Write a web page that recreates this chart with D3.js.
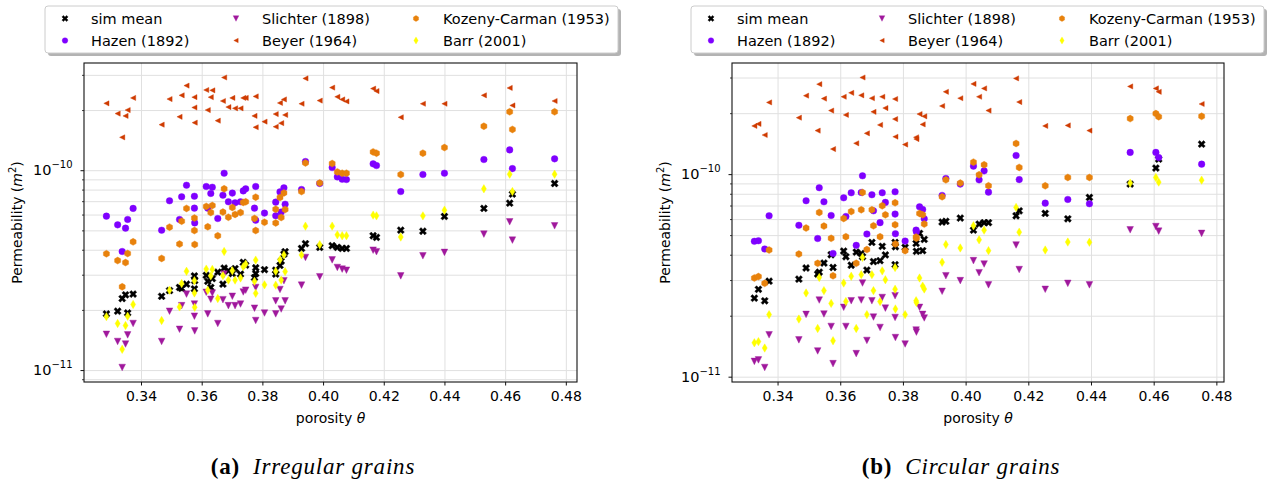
<!DOCTYPE html>
<html><head><meta charset="utf-8">
<script src="https://cdn.jsdelivr.net/npm/d3@7"></script>
<style>body{margin:0;background:#fff}svg{display:block}</style>
</head><body>
<svg id="chart" width="1269" height="486"></svg>
<script>
// ---------------- DATA ----------------
const seriesNames = ["sim mean","Hazen (1892)","Slichter (1898)","Beyer (1964)","Kozeny-Carman (1953)","Barr (2001)"];
const xTicks = [0.34,0.36,0.38,0.40,0.42,0.44,0.46,0.48];
const yTickExponents = [-11,-10];
const panelTags = ["(a)","(b)"];
const captions = ["Irregular grains","Circular grains"];
const xLabel = "porosity ";
const yLabel = "Permeability (";

// (a) Irregular grains
const porosityA = [0.3286,0.3323,0.3338,0.3349,0.3356,0.3374,0.3468,0.3494,0.3527,0.3534,0.3550,0.3576,0.3576,0.3577,0.3615,0.3620,0.3630,0.3635,0.3653,0.3670,0.3674,0.3688,0.3701,0.3710,0.3728,0.3737,0.3745,0.3774,0.3778,0.3778,0.3807,0.3844,0.3844,0.3858,0.3862,0.3871,0.3875,0.3929,0.3942,0.3989,0.4030,0.4047,0.4063,0.4077,0.4165,0.4176,0.4256,0.4329,0.4400,0.4530,0.4615,0.4624,0.4763];
const simA = [1.91e-11,1.97e-11,2.28e-11,2.38e-11,1.93e-11,2.40e-11,2.34e-11,2.50e-11,2.59e-11,2.56e-11,2.69e-11,2.96e-11,2.55e-11,2.80e-11,2.98e-11,2.78e-11,2.59e-11,2.87e-11,3.09e-11,2.69e-11,3.24e-11,3.14e-11,3.04e-11,3.22e-11,3.02e-11,3.46e-11,3.35e-11,2.90e-11,3.25e-11,3.04e-11,3.18e-11,3.16e-11,3.02e-11,3.34e-11,3.51e-11,3.80e-11,3.91e-11,4.06e-11,4.29e-11,4.11e-11,4.19e-11,4.11e-11,4.06e-11,4.06e-11,4.70e-11,4.61e-11,5.01e-11,4.95e-11,5.87e-11,6.44e-11,6.84e-11,7.59e-11,8.58e-11];
const hazenA = [5.89e-11,5.33e-11,3.92e-11,5.13e-11,5.67e-11,6.44e-11,5.01e-11,7.03e-11,5.67e-11,7.36e-11,8.41e-11,7.41e-11,6.46e-11,5.45e-11,8.29e-11,6.46e-11,7.65e-11,8.22e-11,5.73e-11,7.50e-11,9.66e-11,6.95e-11,7.68e-11,6.87e-11,6.95e-11,7.88e-11,8.07e-11,6.46e-11,8.29e-11,5.62e-11,6.10e-11,6.92e-11,5.92e-11,7.79e-11,6.17e-11,8.16e-11,6.76e-11,8.01e-11,1.105e-10,8.58e-11,1.031e-10,9.26e-11,9.01e-11,8.98e-11,1.076e-10,1.055e-10,7.82e-11,9.51e-11,9.66e-11,1.131e-10,1.264e-10,1.019e-10,1.140e-10];
const slichterA = [1.51e-11,1.39e-11,1.03e-11,1.35e-11,1.50e-11,1.71e-11,1.39e-11,1.97e-11,1.60e-11,2.10e-11,2.40e-11,2.14e-11,1.86e-11,1.57e-11,2.45e-11,1.91e-11,2.26e-11,2.43e-11,1.71e-11,2.25e-11,3.02e-11,2.10e-11,2.34e-11,2.10e-11,2.14e-11,2.46e-11,2.51e-11,2.04e-11,2.59e-11,1.77e-11,1.93e-11,2.22e-11,1.91e-11,2.53e-11,2.02e-11,2.80e-11,2.22e-11,2.66e-11,3.66e-11,2.93e-11,3.56e-11,3.26e-11,3.20e-11,3.16e-11,3.98e-11,3.91e-11,2.96e-11,3.73e-11,3.88e-11,4.79e-11,5.52e-11,4.47e-11,5.27e-11];
const beyerA = [2.16e-10,1.92e-10,1.46e-10,1.87e-10,2.00e-10,2.30e-10,1.69e-10,2.27e-10,1.85e-10,2.37e-10,2.65e-10,2.32e-10,2.06e-10,1.73e-10,2.52e-10,2.00e-10,2.32e-10,2.51e-10,1.77e-10,2.22e-10,2.91e-10,2.07e-10,2.30e-10,2.04e-10,2.04e-10,2.30e-10,2.30e-10,1.87e-10,2.34e-10,1.64e-10,1.75e-10,1.91e-10,1.65e-10,2.17e-10,1.72e-10,2.26e-10,1.89e-10,2.15e-10,2.88e-10,2.23e-10,2.59e-10,2.33e-10,2.26e-10,2.21e-10,2.56e-10,2.49e-10,1.84e-10,2.15e-10,2.15e-10,2.37e-10,2.58e-10,2.11e-10,2.22e-10];
const kozenyA = [3.82e-11,3.53e-11,2.61e-11,3.45e-11,3.83e-11,4.38e-11,3.62e-11,5.19e-11,4.27e-11,5.56e-11,6.44e-11,5.76e-11,4.99e-11,4.25e-11,6.59e-11,5.21e-11,6.14e-11,6.66e-11,4.70e-11,6.17e-11,8.07e-11,5.82e-11,6.51e-11,6.01e-11,6.14e-11,6.90e-11,6.95e-11,5.74e-11,7.33e-11,4.99e-11,5.49e-11,6.38e-11,5.45e-11,7.30e-11,5.80e-11,7.70e-11,6.36e-11,7.82e-11,1.088e-10,8.64e-11,1.080e-10,9.81e-11,9.66e-11,9.66e-11,1.235e-10,1.217e-10,9.51e-11,1.217e-10,1.298e-10,1.66e-10,1.96e-10,1.60e-10,1.96e-10];
const barrA = [1.85e-11,1.71e-11,1.27e-11,1.67e-11,1.86e-11,2.13e-11,1.77e-11,2.51e-11,2.07e-11,2.71e-11,3.12e-11,2.80e-11,2.43e-11,2.06e-11,3.20e-11,2.51e-11,2.96e-11,3.19e-11,2.28e-11,2.97e-11,3.92e-11,2.82e-11,3.14e-11,2.82e-11,2.89e-11,3.29e-11,3.39e-11,2.78e-11,3.55e-11,2.42e-11,2.67e-11,3.12e-11,2.66e-11,3.56e-11,2.82e-11,3.77e-11,3.11e-11,3.77e-11,5.25e-11,4.24e-11,5.25e-11,4.75e-11,4.70e-11,4.70e-11,5.96e-11,5.91e-11,4.63e-11,5.91e-11,6.31e-11,8.07e-11,9.55e-11,7.82e-11,9.55e-11];

// (b) Circular grains
const porosityB = [0.3326,0.3339,0.3359,0.3373,0.3468,0.3491,0.3528,0.3533,0.3548,0.3571,0.3577,0.3611,0.3618,0.3635,0.3651,0.3667,0.3671,0.3685,0.3701,0.3706,0.3727,0.3734,0.3744,0.3775,0.3775,0.3776,0.3807,0.3842,0.3843,0.3853,0.3863,0.3868,0.3925,0.3937,0.3983,0.4025,0.4043,0.4059,0.4073,0.4161,0.4171,0.4254,0.4326,0.4395,0.4525,0.4607,0.4616,0.4753];
const simB = [2.44e-11,2.70e-11,2.37e-11,2.96e-11,3.03e-11,3.44e-11,3.21e-11,3.28e-11,3.64e-11,4.00e-11,3.46e-11,4.17e-11,3.91e-11,3.55e-11,4.12e-11,4.06e-11,3.91e-11,3.36e-11,4.60e-11,3.70e-11,3.74e-11,4.40e-11,3.99e-11,4.60e-11,3.57e-11,4.38e-11,4.35e-11,4.55e-11,4.16e-11,5.10e-11,4.19e-11,4.76e-11,5.80e-11,5.85e-11,6.07e-11,5.29e-11,5.67e-11,5.76e-11,5.76e-11,6.23e-11,6.59e-11,6.40e-11,6.02e-11,7.67e-11,8.93e-11,1.071e-10,1.186e-10,1.406e-10];
const hazenB = [4.66e-11,4.69e-11,4.27e-11,6.23e-11,5.59e-11,7.39e-11,4.81e-11,8.57e-11,7.30e-11,6.25e-11,4.06e-11,7.64e-11,6.18e-11,8.09e-11,4.45e-11,8.12e-11,9.81e-11,5.06e-11,7.91e-11,6.59e-11,5.76e-11,8.09e-11,7.25e-11,8.18e-11,6.35e-11,5.08e-11,4.67e-11,5.29e-11,5.19e-11,6.90e-11,6.69e-11,6.02e-11,7.85e-11,9.52e-11,8.93e-11,1.095e-10,9.37e-11,1.038e-10,8.15e-11,1.236e-10,9.40e-11,7.19e-11,7.50e-11,7.14e-11,1.28e-10,1.28e-10,1.208e-10,1.12e-10];
const slichterB = [1.19e-11,1.21e-11,1.11e-11,1.61e-11,1.52e-11,2.03e-11,1.34e-11,2.39e-11,2.04e-11,1.77e-11,1.16e-11,2.20e-11,1.77e-11,2.37e-11,1.30e-11,2.39e-11,2.90e-11,1.51e-11,2.37e-11,1.97e-11,1.75e-11,2.46e-11,2.18e-11,2.51e-11,1.96e-11,1.56e-11,1.45e-11,1.70e-11,1.66e-11,2.20e-11,2.03e-11,1.95e-11,2.64e-11,3.15e-11,2.98e-11,3.74e-11,3.26e-11,3.60e-11,2.84e-11,4.47e-11,3.38e-11,2.70e-11,2.89e-11,2.84e-11,5.31e-11,5.51e-11,5.23e-11,5.10e-11];
const beyerB = [1.73e-10,1.77e-10,1.56e-10,2.26e-10,1.90e-10,2.44e-10,1.64e-10,2.78e-10,2.36e-10,2.06e-10,1.33e-10,2.41e-10,1.96e-10,2.52e-10,1.42e-10,2.45e-10,3.00e-10,1.59e-10,2.37e-10,2.03e-10,1.75e-10,2.41e-10,2.12e-10,2.35e-10,1.87e-10,1.53e-10,1.40e-10,1.52e-10,1.49e-10,1.98e-10,1.76e-10,1.93e-10,2.17e-10,2.55e-10,2.37e-10,2.79e-10,2.41e-10,2.65e-10,2.06e-10,2.97e-10,2.27e-10,1.73e-10,1.74e-10,1.64e-10,2.71e-10,2.65e-10,2.55e-10,2.22e-10];
const kozenyB = [3.07e-11,3.12e-11,2.89e-11,4.22e-11,4.03e-11,5.42e-11,3.63e-11,6.47e-11,5.54e-11,4.82e-11,3.15e-11,6.04e-11,4.91e-11,6.54e-11,3.63e-11,6.67e-11,8.12e-11,4.24e-11,6.67e-11,5.56e-11,4.91e-11,6.98e-11,6.30e-11,7.22e-11,5.63e-11,4.52e-11,4.19e-11,4.89e-11,4.83e-11,6.40e-11,6.30e-11,5.67e-11,7.73e-11,9.37e-11,9.03e-11,1.146e-10,9.93e-11,1.112e-10,8.76e-11,1.417e-10,1.079e-10,8.76e-11,9.63e-11,9.63e-11,1.88e-10,1.99e-10,1.92e-10,1.93e-10];
const barrB = [1.47e-11,1.49e-11,1.385e-11,2.025e-11,1.925e-11,2.59e-11,1.73e-11,3.09e-11,2.66e-11,2.30e-11,1.505e-11,2.90e-11,2.35e-11,3.13e-11,1.73e-11,3.19e-11,3.88e-11,2.025e-11,3.19e-11,2.66e-11,2.35e-11,3.33e-11,3.01e-11,3.46e-11,2.70e-11,2.16e-11,2.025e-11,2.37e-11,2.325e-11,3.07e-11,2.80e-11,2.71e-11,3.67e-11,4.49e-11,4.32e-11,5.56e-11,4.74e-11,5.29e-11,4.19e-11,6.85e-11,5.17e-11,4.22e-11,4.62e-11,4.61e-11,9.03e-11,9.63e-11,9.13e-11,9.34e-11];

// ---------------- STYLE / LAYOUT ----------------
const colors = ["#000000","#7f00ff","#a0189c","#cf3b00","#e8820c","#ffff00"];
const shapes = ["X","circle","tridown","trileft","hexagon","thindiamond"];
const FONT = "'DejaVu Sans', sans-serif";

const panels = [
  {left:84, right:577, top:63, bottom:382, porosity:porosityA,
   series:[simA,hazenA,slichterA,beyerA,kozenyA,barrA], legendX:45, ylabelX:17, captionX:313},
  {left:732, right:1224, top:63, bottom:382, porosity:porosityB,
   series:[simB,hazenB,slichterB,beyerB,kozenyB,barrB], legendX:691, ylabelX:665, captionX:961}
];

function poly(pts){ return "M" + pts.map(p => p[0].toFixed(2)+","+p[1].toFixed(2)).join("L") + "Z"; }
function markerPath(kind){
  switch(kind){
    case "circle": return d3.symbol(d3.symbolCircle, Math.PI*3.3*3.3)();
    case "X": {
      const a = 3.9, w = 1.25, s = Math.SQRT1_2;
      const pts = [[-w,-a],[w,-a],[w,-w],[a,-w],[a,w],[w,w],[w,a],[-w,a],[-w,w],[-a,w],[-a,-w],[-w,-w]];
      return poly(pts.map(([x,y]) => [(x-y)*s,(x+y)*s]));
    }
    case "tridown": { const r = 3.3; return poly([[-r,-r],[r,-r],[0,r]]); }
    case "trileft": { const r = 2.6; return poly([[-r,0],[r,-r],[r,r]]); }
    case "hexagon": {
      const r = 3.5; const pts = [];
      for (let k=0;k<6;k++){ const a = -Math.PI/2 + k*Math.PI/3; pts.push([r*Math.cos(a), r*Math.sin(a)]); }
      return poly(pts);
    }
    case "thindiamond": { const r = 4.2; return poly([[0,-r],[r*0.6,0],[0,r],[-r*0.6,0]]); }
  }
}

const svg = d3.select("#chart");
svg.append("rect").attr("width",1269).attr("height",486).attr("fill","#fff");

panels.forEach((P, pi) => {
  const W = P.right - P.left, H = P.bottom - P.top;
  const [pmin,pmax] = d3.extent(P.porosity);
  const pm = (pmax-pmin)*0.05;
  const x = d3.scaleLinear().domain([pmin-pm, pmax+pm]).range([P.left, P.right]);
  const allV = P.series.flat();
  const [lmin,lmax] = d3.extent(allV, v => Math.log10(v));
  const lm = (lmax-lmin)*0.05;
  const y = d3.scaleLog().domain([Math.pow(10,lmin-lm), Math.pow(10,lmax+lm)]).range([P.bottom, P.top]);
  const [d0,d1] = y.domain();
  const major = yTickExponents.map(e => Math.pow(10,e));
  const minor = [];
  for (let e=-13; e<=-8; e++) for (let k=2;k<=9;k++){ const v = k*Math.pow(10,e); if (v>=d0 && v<=d1) minor.push(v); }

  const g = svg.append("g");
  // grid
  const styleGrid = s => { s.select(".domain").remove(); s.selectAll("line").attr("stroke","#e0e0e0").attr("stroke-width",1); };
  g.append("g").attr("transform",`translate(0,${P.bottom})`)
    .call(d3.axisBottom(x).tickValues(xTicks).tickSize(-H).tickFormat("")).call(styleGrid);
  g.append("g").attr("transform",`translate(${P.left},0)`)
    .call(d3.axisLeft(y).tickValues(major.concat(minor)).tickSize(-W).tickFormat("")).call(styleGrid);

  // points
  P.series.forEach((vals, si) => {
    const path = markerPath(shapes[si]);
    g.append("g").selectAll("path").data(vals).join("path")
      .attr("d", path)
      .attr("transform", (v,i) => `translate(${x(P.porosity[i])},${y(v)})`)
      .attr("fill", colors[si]).attr("stroke", colors[si]).attr("stroke-width", 0.4);
  });

  // frame
  g.append("rect").attr("x",P.left).attr("y",P.top).attr("width",W).attr("height",H)
    .attr("fill","none").attr("stroke","#111").attr("stroke-width",1.1);

  // x axis
  const xa = g.append("g").attr("transform",`translate(0,${P.bottom})`)
    .call(d3.axisBottom(x).tickValues(xTicks).tickSize(3.5).tickPadding(5.5).tickFormat(d3.format(".2f")));
  xa.select(".domain").remove();
  xa.selectAll("line").attr("stroke","#111").attr("stroke-width",1);
  xa.selectAll("text").attr("font-family",FONT).attr("font-size",14).attr("fill","#000");

  // y axis (major)
  const ya = g.append("g").attr("transform",`translate(${P.left},0)`)
    .call(d3.axisLeft(y).tickValues(major).tickSize(3.5).tickPadding(8));
  ya.select(".domain").remove();
  ya.selectAll("line").attr("stroke","#111").attr("stroke-width",1);
  ya.selectAll(".tick text").attr("font-family",FONT).attr("font-size",14.5).attr("fill","#000")
    .each(function(d){
      const t = d3.select(this); t.text(null);
      t.append("tspan").text("10");
      t.append("tspan").attr("dy",-7).attr("font-size",10).text("\u2212" + Math.round(-Math.log10(d)));
    });
  // y axis (minor)
  const ym = g.append("g").attr("transform",`translate(${P.left},0)`)
    .call(d3.axisLeft(y).tickValues(minor).tickSize(2).tickFormat(""));
  ym.select(".domain").remove();
  ym.selectAll("line").attr("stroke","#111").attr("stroke-width",0.8);

  // axis labels
  const xl = g.append("text").attr("x",(P.left+P.right)/2).attr("y",423).attr("text-anchor","middle")
    .attr("font-family",FONT).attr("font-size",14).attr("fill","#000");
  xl.append("tspan").text(xLabel);
  xl.append("tspan").attr("font-style","italic").text("\u03b8");

  const yl = g.append("text").attr("transform",`translate(${P.ylabelX},${(P.top+P.bottom)/2}) rotate(-90)`)
    .attr("text-anchor","middle").attr("dy","0.35em")
    .attr("font-family",FONT).attr("font-size",14).attr("fill","#000");
  yl.append("tspan").text(yLabel);
  yl.append("tspan").attr("font-style","italic").text("m");
  yl.append("tspan").attr("dy",-6).attr("font-size",10).text("2");
  yl.append("tspan").attr("dy",6).text(")");

  // legend
  const L = P.legendX, LW = 573, LT = 6, LH = 47;
  const lg = g.append("g");
  lg.append("rect").attr("x",L+3).attr("y",LT+3).attr("width",LW).attr("height",LH).attr("rx",3)
    .attr("fill","#b3b3b3");
  lg.append("rect").attr("x",L).attr("y",LT).attr("width",LW).attr("height",LH).attr("rx",3)
    .attr("fill","#fff").attr("stroke","#cccccc").attr("stroke-width",1);
  const colMarker = [20,191,371], colText = [46,217,398], rowY = [18.5,40.5];
  seriesNames.forEach((name, si) => {
    const c = Math.floor(si/2), r = si % 2;
    lg.append("path").attr("d", markerPath(shapes[si]))
      .attr("transform",`translate(${L+colMarker[c]},${rowY[r]}) scale(0.85)`)
      .attr("fill",colors[si]).attr("stroke",colors[si]).attr("stroke-width",0.4);
    lg.append("text").attr("x",L+colText[c]).attr("y",rowY[r]).attr("dy","0.36em")
      .attr("font-family",FONT).attr("font-size",14.5).attr("fill","#000").text(name);
  });

  // caption
  const cap = g.append("text").attr("x",P.captionX).attr("y",474).attr("text-anchor","middle")
    .attr("font-family","'Liberation Serif', 'DejaVu Serif', serif").attr("font-size",23)
    .attr("letter-spacing",0.8).attr("fill","#000");
  cap.append("tspan").attr("font-weight","bold").text(panelTags[pi]);
  cap.append("tspan").attr("font-style","italic").attr("dx",13).text(captions[pi]);
});
</script>
</body></html>
